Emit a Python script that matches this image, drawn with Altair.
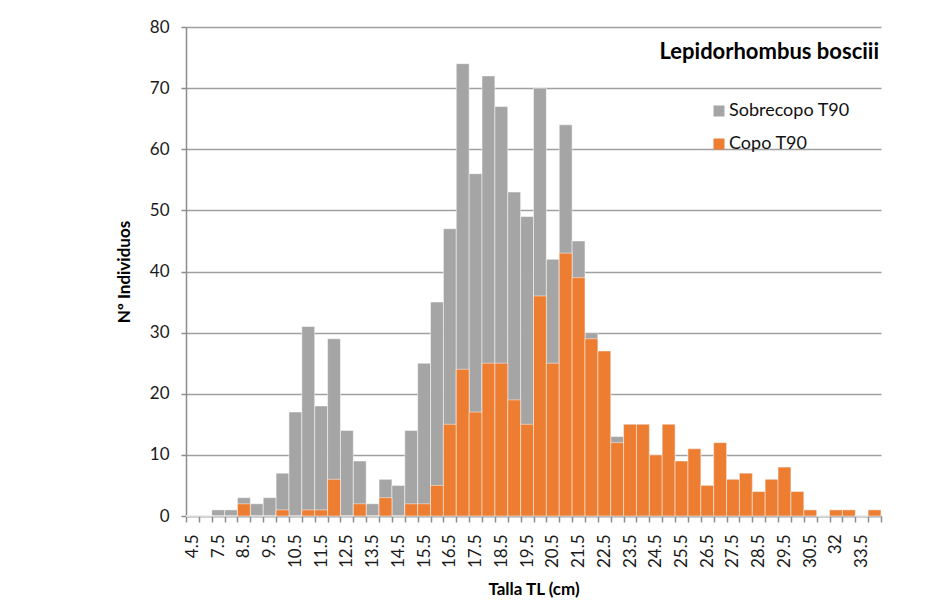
import json
import altair as alt
import pandas as pd

tallas = ["4.5", "7", "7.5", "8", "8.5", "9", "9.5", "10", "10.5", "11",
          "11.5", "12", "12.5", "13", "13.5", "14", "14.5", "15", "15.5", "16",
          "16.5", "17", "17.5", "18", "18.5", "19", "19.5", "20", "20.5", "21",
          "21.5", "22", "22.5", "23", "23.5", "24", "24.5", "25", "25.5", "26",
          "26.5", "27", "27.5", "28", "28.5", "29", "29.5", "30", "30.5", "31",
          "32", "33", "33.5", "34"]

sobrecopo = [0, 0, 1, 1, 3, 2, 3, 7, 17, 31,
             18, 29, 14, 9, 2, 6, 5, 14, 25, 35,
             47, 74, 56, 72, 67, 53, 49, 70, 42, 64,
             45, 30, 27, 13, 15, 15, 10, 15, 9, 11,
             5, 12, 6, 7, 4, 6, 8, 4, 1, 0,
             1, 1, 0, 1]

copo = [0, 0, 0, 0, 2, 0, 0, 1, 0, 1,
        1, 6, 0, 2, 0, 3, 0, 2, 2, 5,
        15, 24, 17, 25, 25, 19, 15, 36, 25, 43,
        39, 29, 27, 12, 15, 15, 10, 15, 9, 11,
        5, 12, 6, 7, 4, 6, 8, 4, 1, 0,
        1, 1, 0, 1]

series = ["Sobrecopo T90", "Copo T90"]
colors = ["#a5a5a5", "#ed7d31"]
y_ticks = [0, 10, 20, 30, 40, 50, 60, 70, 80]
labeled = tallas[::2]
species = ["Lepidorhombus bosciii"]

df = pd.DataFrame({
    "talla": tallas * 2,
    "serie": [series[0]] * len(tallas) + [series[1]] * len(tallas),
    "n": sobrecopo + copo,
})
title_df = pd.DataFrame({"t": species})

FONT = "Lato"

x = alt.X(
    "talla:N",
    sort=tallas,
    scale=alt.Scale(paddingInner=0, paddingOuter=0),
    axis=alt.Axis(
        title="Talla TL (cm)",
        labelAngle=270,
        tickBand="extent",
        labelOverlap=False,
        labelExpr="indexof(" + json.dumps(labeled).replace('"', "'") + ", datum.value) >= 0 ? datum.label : ''",
        labelPadding=12,
        titlePadding=14,
        tickSize=6,
        grid=False,
    ),
)

y = alt.Y(
    "n:Q",
    scale=alt.Scale(domain=[0, 80], nice=False),
    axis=alt.Axis(
        title="Nº Individuos",
        values=y_ticks,
        tickSize=5,
        labelPadding=12,
        titlePadding=16,
        grid=True,
    ),
)

color = alt.Color(
    "serie:N",
    scale=alt.Scale(domain=series, range=colors),
    legend=alt.Legend(
        title=None,
        orient="none",
        legendX=524,
        legendY=75,
        symbolType="square",
        symbolSize=121,
        symbolStrokeWidth=0,
        labelFontSize=18,
        labelFont=FONT,
        labelColor="#111111",
        labelOffset=1,
        rowPadding=15,
        padding=0,
    ),
)

base = alt.Chart(df)

gray = base.transform_filter(alt.datum.serie == series[0]).mark_bar(
    stroke="white", strokeWidth=0.7, strokeOpacity=0.7
).encode(x=x, y=y, color=color)

orange = base.transform_filter(alt.datum.serie == series[1]).mark_bar(
    stroke="white", strokeWidth=0.7, strokeOpacity=0.7
).encode(x=x, y=y, color=color)

title_mark = alt.Chart(title_df).mark_text(
    align="right",
    baseline="alphabetic",
    font=FONT,
    fontSize=22,
    fontWeight="bold",
    color="#000000",
).encode(
    x=alt.value(693),
    y=alt.value(32),
    text="t:N",
)

chart = alt.layer(gray, orange, title_mark).properties(
    width=695,
    height=489,
    autosize=alt.AutoSizeParams(type="none"),
    padding={"left": 178, "top": 19, "right": 40, "bottom": 82},
).configure_view(
    stroke=None
).configure_axis(
    labelFont=FONT,
    labelFontSize=17,
    labelColor="#1a1a1a",
    titleFont=FONT,
    titleFontSize=17,
    titleFontWeight="bold",
    titleColor="#000000",
    domainColor="#8c8c8c",
    domainWidth=1.5,
    tickColor="#8c8c8c",
    tickWidth=1.5,
    gridColor="#a0a0a0",
    gridWidth=1.5,
)

chart.save("out.html", embed_options={"renderer": "svg", "actions": False})
